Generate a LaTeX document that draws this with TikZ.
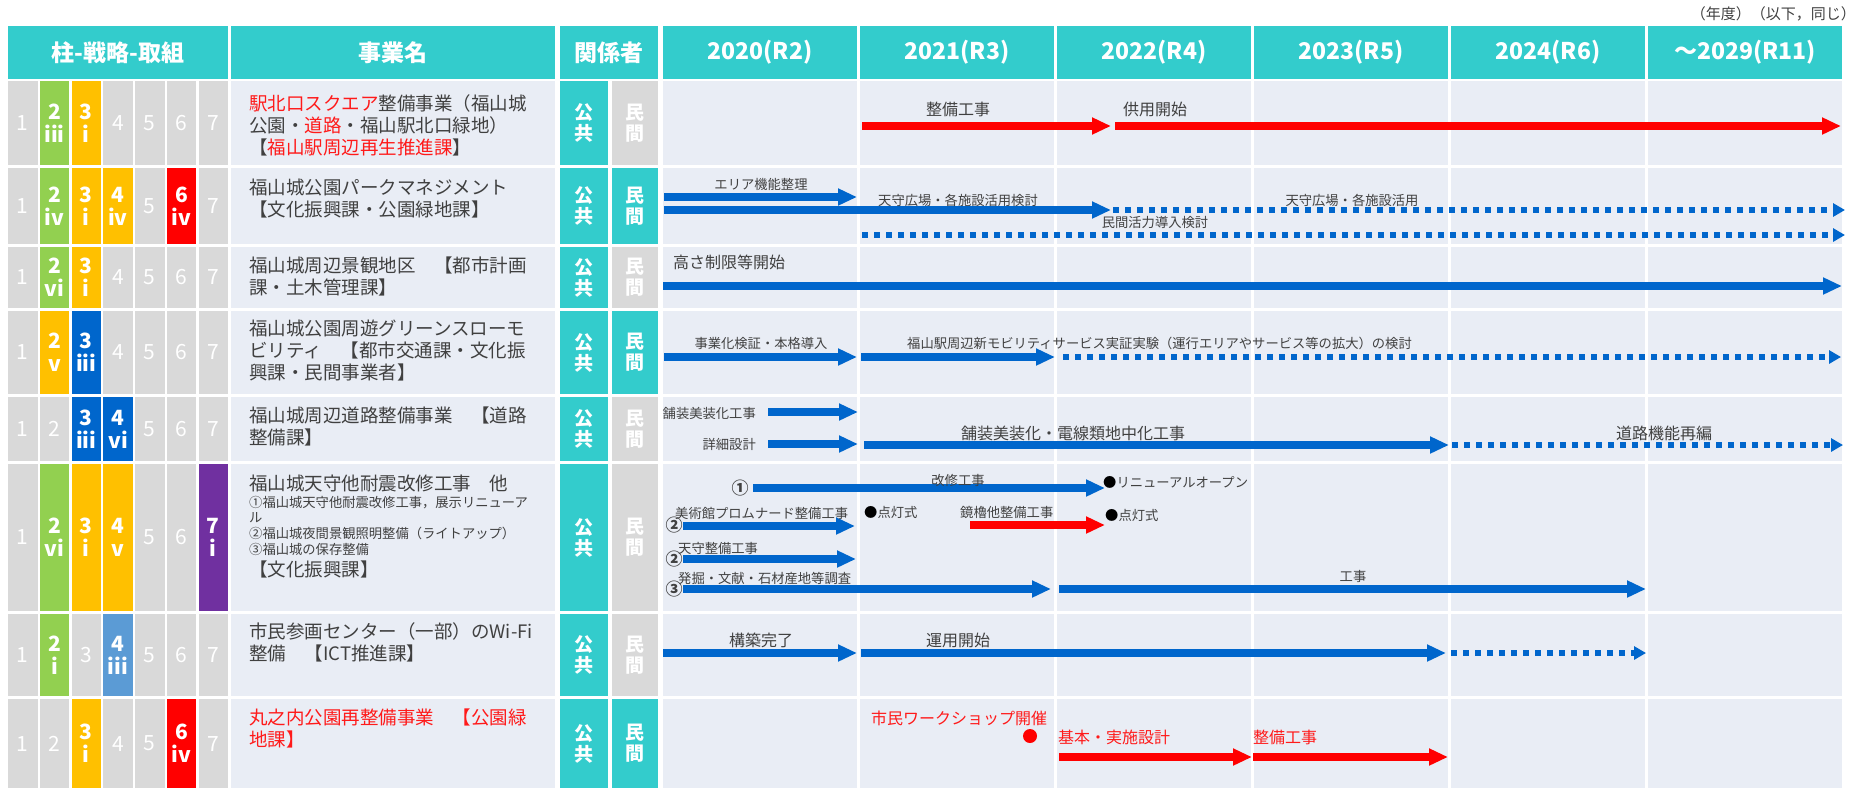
\documentclass[tikz,border=0pt]{standalone}
\usepackage{fontspec}
\setmainfont{Noto Sans CJK JP}
\usetikzlibrary{arrows.meta}

\definecolor{hteal}{HTML}{33CCCC}
\definecolor{pgray}{HTML}{D9D9D9}
\definecolor{pgreen}{HTML}{92D050}
\definecolor{pyellow}{HTML}{FFC000}
\definecolor{pblue}{HTML}{0066CC}
\definecolor{plblue}{HTML}{5B9BD5}
\definecolor{pred}{HTML}{FF0000}
\definecolor{ppurple}{HTML}{7030A0}
\definecolor{gbg}{HTML}{E9EDF5}
\definecolor{tgray}{HTML}{404040}
\definecolor{tred}{HTML}{FF1A1A}
\definecolor{abl}{HTML}{0066CC}

\newcommand\hdfont{\fontsize{23}{26}\selectfont\bfseries}
\newcommand\nmfont{\fontsize{18.5}{22}\selectfont}
\newcommand\snfont{\fontsize{13.3}{15.7}\selectfont}
\newcommand\lbfont{\fontsize{13.3}{15}\selectfont}
\newcommand\mdfont{\fontsize{16}{18}\selectfont}
\newcommand\pfont{\fontsize{21}{23}\selectfont}
\newcommand\pbfont{\fontsize{21}{23}\selectfont\bfseries}
\newcommand\shfont{\fontsize{19}{21}\selectfont\bfseries}
\newcommand\ntfont{\fontsize{15}{17}\selectfont}
\newcommand\cnfont{\fontsize{17}{18}\selectfont\bfseries}

\begin{document}
\begin{tikzpicture}[x=1pt,y=-1pt,
  hd/.style={fill=hteal, text=white, font=\hdfont, inner sep=0pt, minimum height=53},
  bg/.style={fill=gbg, inner sep=0pt},
  pil/.style={text=white, align=center, inner sep=0pt, minimum width=29.5},
  sh/.style={text=white, font=\shfont, align=center, inner sep=0pt},
  nm/.style={text=tgray, font=\nmfont, align=left, inner sep=0pt, anchor=west},
  lab/.style={text=tgray, font=\lbfont, inner sep=0pt},
  labm/.style={text=tgray, font=\mdfont, inner sep=0pt},
  cn/.style={text=tgray, font=\cnfont, inner sep=0pt},
  barr/.style={draw=abl, line width=8pt, -{Triangle[length=19pt,width=16pt]}},
  rarr/.style={barr, draw=pred},
  darr/.style={draw=abl, line width=5.5pt, dash pattern=on 5.5pt off 6.5pt, -{Triangle[length=12pt,width=13pt]}}]

	\useasboundingbox (0,0) rectangle (1867,788);

	% header
	\node[text=tgray, font=\ntfont, inner sep=0pt, anchor=east] (note) at (1856,14) {（年度）（以下，同じ）};
	\node[hd, minimum width=220] (h0) at (118,52.5) {柱-戦略-取組};
	\node[hd, minimum width=324] (h1) at (393,52.5) {事業名};
	\node[hd, minimum width=98] (h2) at (609,52.5) {関係者};
	\foreach \k/\t in {0/2020(R2),1/2021(R3),2/2022(R4),3/2023(R5),4/2024(R6),5/～2029(R11)}
		\node[hd, minimum width=194] (y\k) at ({760+197*\k},52.5) {\t};

	% row cells
	\foreach \r/\yc/\h/\mc in {1/123/84/pgray,2/206/76/hteal,3/277.5/61/pgray,4/352.5/83/hteal,5/429/64/pgray,6/537.5/147/pgray,7/655/82/pgray,8/743.5/89/hteal} {
		\node[bg, minimum width=324, minimum height=\h] (n\r) at (393,\yc) {};
		\node[sh, fill=hteal, minimum width=48, minimum height=\h] (k\r) at (584,\yc) {公\\共};
		\node[sh, fill=\mc, minimum width=46, minimum height=\h] (m\r) at (635,\yc) {民\\間};
		\foreach \k in {0,...,5}
			\node[bg, minimum width=194, minimum height=\h] (g\r-\k) at ({760+197*\k},\yc) {};
	}

	% pillar cells
	\foreach \k/\c/\f/\t in {1/pgray/\pfont/1,2/pgreen/\pbfont/2\\iii,3/pyellow/\pbfont/3\\i,4/pgray/\pfont/4,5/pgray/\pfont/5,6/pgray/\pfont/6,7/pgray/\pfont/7}
		\node[pil, fill=\c, font=\f, minimum height=84] (p1-\k) at ({22.75+31.75*(\k-1)},123) {\t};
	\foreach \k/\c/\f/\t in {1/pgray/\pfont/1,2/pgreen/\pbfont/2\\iv,3/pyellow/\pbfont/3\\i,4/pyellow/\pbfont/4\\iv,5/pgray/\pfont/5,6/pred/\pbfont/6\\iv,7/pgray/\pfont/7}
		\node[pil, fill=\c, font=\f, minimum height=76] (p2-\k) at ({22.75+31.75*(\k-1)},206) {\t};
	\foreach \k/\c/\f/\t in {1/pgray/\pfont/1,2/pgreen/\pbfont/2\\vi,3/pyellow/\pbfont/3\\i,4/pgray/\pfont/4,5/pgray/\pfont/5,6/pgray/\pfont/6,7/pgray/\pfont/7}
		\node[pil, fill=\c, font=\f, minimum height=61] (p3-\k) at ({22.75+31.75*(\k-1)},277.5) {\t};
	\foreach \k/\c/\f/\t in {1/pgray/\pfont/1,2/pyellow/\pbfont/2\\v,3/pblue/\pbfont/3\\iii,4/pgray/\pfont/4,5/pgray/\pfont/5,6/pgray/\pfont/6,7/pgray/\pfont/7}
		\node[pil, fill=\c, font=\f, minimum height=83] (p4-\k) at ({22.75+31.75*(\k-1)},352.5) {\t};
	\foreach \k/\c/\f/\t in {1/pgray/\pfont/1,2/pgray/\pfont/2,3/pblue/\pbfont/3\\iii,4/pblue/\pbfont/4\\vi,5/pgray/\pfont/5,6/pgray/\pfont/6,7/pgray/\pfont/7}
		\node[pil, fill=\c, font=\f, minimum height=64] (p5-\k) at ({22.75+31.75*(\k-1)},429) {\t};
	\foreach \k/\c/\f/\t in {1/pgray/\pfont/1,2/pgreen/\pbfont/2\\vi,3/pyellow/\pbfont/3\\i,4/pyellow/\pbfont/4\\v,5/pgray/\pfont/5,6/pgray/\pfont/6,7/ppurple/\pbfont/7\\i}
		\node[pil, fill=\c, font=\f, minimum height=147] (p6-\k) at ({22.75+31.75*(\k-1)},537.5) {\t};
	\foreach \k/\c/\f/\t in {1/pgray/\pfont/1,2/pgreen/\pbfont/2\\i,3/pgray/\pfont/3,4/plblue/\pbfont/4\\iii,5/pgray/\pfont/5,6/pgray/\pfont/6,7/pgray/\pfont/7}
		\node[pil, fill=\c, font=\f, minimum height=82] (p7-\k) at ({22.75+31.75*(\k-1)},655) {\t};
	\foreach \k/\c/\f/\t in {1/pgray/\pfont/1,2/pgray/\pfont/2,3/pyellow/\pbfont/3\\i,4/pgray/\pfont/4,5/pgray/\pfont/5,6/pred/\pbfont/6\\iv,7/pgray/\pfont/7}
		\node[pil, fill=\c, font=\f, minimum height=89] (p8-\k) at ({22.75+31.75*(\k-1)},743.5) {\t};

	% project names
	\node[nm] (t1) at (249,125) {{\color{tred}駅北口スクエア}整備事業（福山城\\公園・{\color{tred}道路}・福山駅北口緑地）\\【{\color{tred}福山駅周辺再生推進課}】};
	\node[nm] (t2) at (249,199) {福山城公園パークマネジメント\\【文化振興課・公園緑地課】};
	\node[nm] (t3) at (249,276) {福山城周辺景観地区　【都市計画\\課・土木管理課】};
	\node[nm] (t4) at (249,350.5) {福山城公園周遊グリーンスローモ\\ビリティ　【都市交通課・文化振\\興課・民間事業者】};
	\node[nm] (t5) at (249,426) {福山城周辺道路整備事業　【道路\\整備課】};
	\node[nm] (t6) at (249,483) {福山城天守他耐震改修工事　他};
	\node[nm, font=\snfont] (t6s) at (249,525.5) {①福山城天守他耐震改修工事，展示リニューア\\ル\\②福山城夜間景観照明整備（ライトアップ）\\③福山城の保存整備};
	\node[nm] (t6b) at (249,569) {【文化振興課】};
	\node[nm] (t7) at (249,642.5) {市民参画センター（一部）のWi-Fi\\整備　【ICT推進課】};
	\node[nm, text=tred] (t8) at (249,728.5) {丸之内公園再整備事業　【公園緑\\地課】};

	% row 1
	\coordinate (r1a) at (862,126); \coordinate (r1b) at (1111,126);
	\coordinate (r1c) at (1115,126); \coordinate (r1d) at (1841,126);
	\draw[rarr] (r1a) -- (r1b);
	\draw[rarr] (r1c) -- (r1d);
	\node[labm] (l1a) at (958,109) {整備工事};
	\node[labm] (l1b) at (1155,109) {供用開始};

	% row 2
	\coordinate (r2a) at (664,197); \coordinate (r2b) at (857,197);
	\coordinate (r2c) at (664,210); \coordinate (r2d) at (1111,210);
	\coordinate (r2e) at (1113,210); \coordinate (r2f) at (1845,210);
	\coordinate (r2g) at (862,235); \coordinate (r2h) at (1845,235);
	\draw[barr] (r2a) -- (r2b);
	\draw[barr] (r2c) -- (r2d);
	\draw[darr] (r2e) -- (r2f);
	\draw[darr] (r2g) -- (r2h);
	\node[lab] (l2a) at (761,184) {エリア機能整理};
	\node[lab] (l2b) at (958,200) {天守広場・各施設活用検討};
	\node[lab] (l2c) at (1352,200) {天守広場・各施設活用};
	\node[lab] (l2d) at (1155,222) {民間活力導入検討};

	% row 3
	\coordinate (r3a) at (663,286); \coordinate (r3b) at (1842,286);
	\draw[barr] (r3a) -- (r3b);
	\node[labm, anchor=west] (l3a) at (673,262) {高さ制限等開始};

	% row 4
	\coordinate (r4a) at (664,357); \coordinate (r4b) at (857,357);
	\coordinate (r4c) at (861,357); \coordinate (r4d) at (1055,357);
	\coordinate (r4e) at (1063,357); \coordinate (r4f) at (1841,357);
	\draw[barr] (r4a) -- (r4b);
	\draw[barr] (r4c) -- (r4d);
	\draw[darr] (r4e) -- (r4f);
	\node[lab] (l4a) at (761,343) {事業化検証・本格導入};
	\node[lab, anchor=west] (l4b) at (907,343) {福山駅周辺新モビリティサービス実証実験（運行エリアやサービス等の拡大）の検討};

	% row 5
	\coordinate (r5a) at (768,412); \coordinate (r5b) at (858,412);
	\coordinate (r5c) at (768,444); \coordinate (r5d) at (858,444);
	\coordinate (r5e) at (864,445); \coordinate (r5f) at (1449,445);
	\coordinate (r5g) at (1452,445); \coordinate (r5h) at (1843,445);
	\draw[barr] (r5a) -- (r5b);
	\draw[barr] (r5c) -- (r5d);
	\draw[barr] (r5e) -- (r5f);
	\draw[darr] (r5g) -- (r5h);
	\node[lab, anchor=east] (l5a) at (756,413) {舗装美装化工事};
	\node[lab, anchor=east] (l5b) at (756,444) {詳細設計};
	\node[labm] (l5c) at (1073,433) {舗装美装化・電線類地中化工事};
	\node[labm] (l5d) at (1664,433) {道路機能再編};

	% row 6
	\coordinate (r6a) at (753,488); \coordinate (r6b) at (1105,488);
	\coordinate (r6c) at (683,526); \coordinate (r6d) at (855,526);
	\coordinate (r6e) at (970,525); \coordinate (r6f) at (1105,525);
	\coordinate (r6g) at (683,559); \coordinate (r6h) at (856,559);
	\coordinate (r6i) at (683,589); \coordinate (r6j) at (1051,589);
	\coordinate (r6k) at (1059,589); \coordinate (r6l) at (1646,589);
	\draw[barr] (r6a) -- (r6b);
	\draw[barr] (r6c) -- (r6d);
	\draw[rarr] (r6e) -- (r6f);
	\draw[barr] (r6g) -- (r6h);
	\draw[barr] (r6i) -- (r6j);
	\draw[barr] (r6k) -- (r6l);
	\node[cn] (c6a) at (740,488) {①};
	\node[cn] (c6b) at (674,525) {②};
	\node[cn] (c6c) at (674,559) {②};
	\node[cn] (c6d) at (674,589) {③};
	\node[lab] (l6a) at (958,480) {改修工事};
	\node[lab, anchor=west] (l6b) at (1103,482) {{\color{black}●}リニューアルオープン};
	\node[lab, anchor=west] (l6c) at (675,513) {美術館プロムナード整備工事};
	\node[lab, anchor=west] (l6d) at (864,512) {{\color{black}●}点灯式};
	\node[lab, anchor=west] (l6e) at (960,512) {鏡櫓他整備工事};
	\node[lab, anchor=west] (l6f) at (1105,515) {{\color{black}●}点灯式};
	\node[lab, anchor=west] (l6g) at (678,548) {天守整備工事};
	\node[lab, anchor=west] (l6h) at (678,578) {発掘・文献・石材産地等調査};
	\node[lab] (l6i) at (1353,576) {工事};

	% row 7
	\coordinate (r7a) at (663,653); \coordinate (r7b) at (857,653);
	\coordinate (r7c) at (861,653); \coordinate (r7d) at (1446,653);
	\coordinate (r7e) at (1451,653); \coordinate (r7f) at (1646,653);
	\draw[barr] (r7a) -- (r7b);
	\draw[barr] (r7c) -- (r7d);
	\draw[darr] (r7e) -- (r7f);
	\node[labm] (l7a) at (761,640) {構築完了};
	\node[labm] (l7b) at (958,640) {運用開始};

	% row 8
	\coordinate (r8a) at (1059,757); \coordinate (r8b) at (1252,757);
	\coordinate (r8c) at (1253,757); \coordinate (r8d) at (1448,757);
	\draw[rarr] (r8a) -- (r8b);
	\draw[rarr] (r8c) -- (r8d);
	\node[circle, fill=pred, minimum size=14, inner sep=0pt] (d8) at (1030,736) {};
	\node[labm, text=tred, anchor=west] (l8a) at (871,718) {市民ワークショップ開催};
	\node[labm, text=tred, anchor=west] (l8b) at (1058,737) {基本・実施設計};
	\node[labm, text=tred, anchor=west] (l8c) at (1253,737) {整備工事};
\end{tikzpicture}
\end{document}
